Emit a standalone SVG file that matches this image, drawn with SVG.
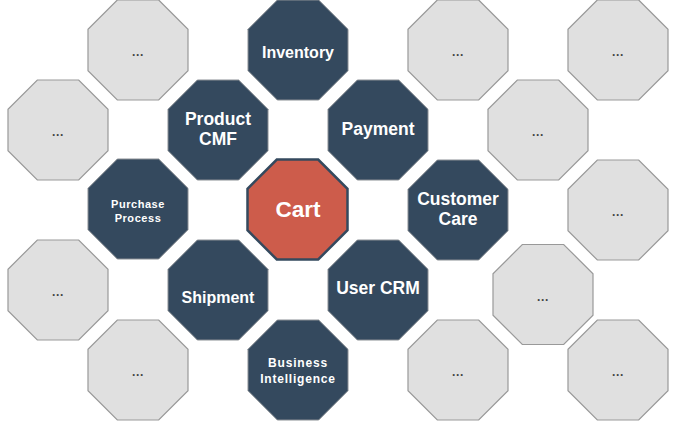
<svg xmlns="http://www.w3.org/2000/svg" xmlns:xlink="http://www.w3.org/1999/xlink" width="674" height="424" viewBox="0 0 674 424">
<defs>
<style>
.g{fill:#e0e0e0;stroke:#999;stroke-width:1.2}
.d{fill:#34495e;stroke:#8a8f94;stroke-width:1}
.c{fill:#cd5c4b;stroke:#34495e;stroke-width:2.5}
text{font-family:"Liberation Sans",Arial,sans-serif;text-anchor:middle}
.dots{fill:#444;font-size:12px;font-weight:bold;letter-spacing:0.6px}
.w{fill:#fff;font-weight:bold}
.l{font-size:17.5px}
.m{font-size:16px}
.s1{font-size:11px;letter-spacing:0.55px}
.s2{font-size:12px;letter-spacing:0.8px}
.xl{font-size:22.5px}
</style>
<path id="oct" d="M-20.7,-50 L20.7,-50 L50,-20.7 L50,20.7 L20.7,50 L-20.7,50 L-50,20.7 L-50,-20.7 Z"/>
</defs>
<g id="connectors"/>
<g id="gray1"><use xlink:href="#oct" class="g" transform="translate(138,50)"/><text class="dots" x="138" y="56">...</text></g>
<g id="gray2"><use xlink:href="#oct" class="g" transform="translate(58,130)"/><text class="dots" x="58" y="136">...</text></g>
<g id="gray3"><use xlink:href="#oct" class="g" transform="translate(58,290)"/><text class="dots" x="58" y="296">...</text></g>
<g id="gray4"><use xlink:href="#oct" class="g" transform="translate(138,370)"/><text class="dots" x="138" y="376">...</text></g>
<g id="gray5"><use xlink:href="#oct" class="g" transform="translate(458,50)"/><text class="dots" x="458" y="56">...</text></g>
<g id="gray6"><use xlink:href="#oct" class="g" transform="translate(618,50)"/><text class="dots" x="618" y="56">...</text></g>
<g id="gray7"><use xlink:href="#oct" class="g" transform="translate(538,130)"/><text class="dots" x="538" y="136">...</text></g>
<g id="gray8"><use xlink:href="#oct" class="g" transform="translate(618,210)"/><text class="dots" x="618" y="216">...</text></g>
<g id="gray9"><use xlink:href="#oct" class="g" transform="translate(543,294.5)"/><text class="dots" x="543" y="300.5">...</text></g>
<g id="gray10"><use xlink:href="#oct" class="g" transform="translate(458,370)"/><text class="dots" x="458" y="376">...</text></g>
<g id="gray11"><use xlink:href="#oct" class="g" transform="translate(618,370)"/><text class="dots" x="618" y="376">...</text></g>
<g id="inventory"><use xlink:href="#oct" class="d" transform="translate(298,50)"/><text class="w m" x="298" y="58">Inventory</text></g>
<g id="product-cmf"><use xlink:href="#oct" class="d" transform="translate(218,130)"/><text class="w l" x="218" y="125">Product</text><text class="w l" x="218" y="145">CMF</text></g>
<g id="payment"><use xlink:href="#oct" class="d" transform="translate(378,130)"/><text class="w l" x="378" y="134.5">Payment</text></g>
<g id="purchase-process"><use xlink:href="#oct" class="d" transform="translate(138,209)"/><text class="w s1" x="138" y="207.7">Purchase</text><text class="w s1" x="138" y="221.7">Process</text></g>
<g id="cart"><use xlink:href="#oct" class="c" transform="translate(297.5,209.5)"/><text class="w xl" x="298" y="217">Cart</text></g>
<g id="customer-care"><use xlink:href="#oct" class="d" transform="translate(458,210)"/><text class="w l" x="458" y="205">Customer</text><text class="w l" x="458" y="225">Care</text></g>
<g id="shipment"><use xlink:href="#oct" class="d" transform="translate(218,290)"/><text class="w m" x="218" y="303.3">Shipment</text></g>
<g id="user-crm"><use xlink:href="#oct" class="d" transform="translate(378,290)"/><text class="w l" x="378" y="294.3">User CRM</text></g>
<g id="business-intelligence"><use xlink:href="#oct" class="d" transform="translate(298,370)"/><text class="w s2" x="298" y="367.3">Business</text><text class="w s2" x="298" y="383.3">Intelligence</text></g>
</svg>
